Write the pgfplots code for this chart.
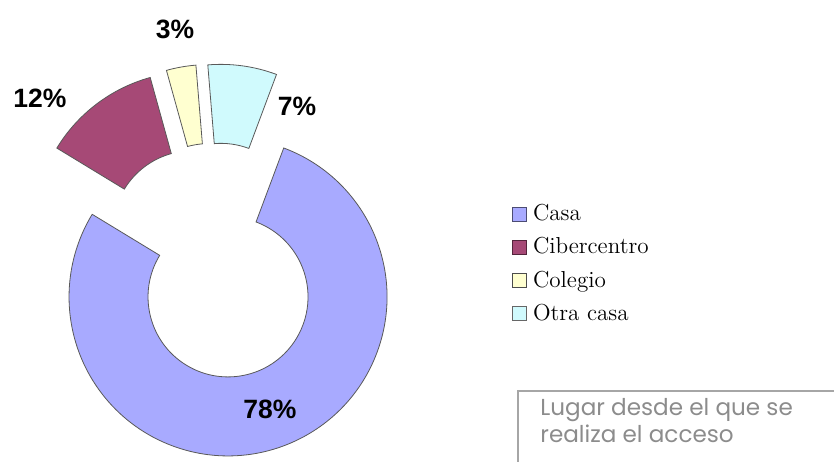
\documentclass[border=0pt]{standalone}
\usepackage{pgfplots}
\pgfplotsset{compat=1.18}
\usepackage{pgfplotstable}
\usepackage{fontspec}
\usetikzlibrary{calc}
\newfontfamily\arialf{Liberation Sans}
\newfontfamily\gothic{Poppins}

\definecolor{casa}{RGB}{168,170,255}
\definecolor{ciber}{RGB}{166,73,118}
\definecolor{colegio}{RGB}{255,255,208}
\definecolor{otra}{RGB}{208,250,253}

\pgfplotstableread{
lugar valor
Casa 78
Cibercentro 12
Colegio 3
Otra 7
}\lugares

% one exploded doughnut slice: start angle, end angle, mid angle, colour
\newcommand\rebanada[4]{%
  \fill[#4, draw=black!65, line width=0.4bp]
    ($(axis cs:215.6,201)+(#3:19bp)+(#1:79.5bp)$)
    arc[start angle=#1, end angle=#2, radius=79.5bp]
    -- ($(axis cs:215.6,201)+(#3:19bp)+(#2:40bp)$)
    arc[start angle=#2, end angle=#1, radius=40bp] -- cycle;}

\begin{document}
\begin{tikzpicture}
\pgfplotstablegetelem{0}{valor}\of\lugares \let\vA\pgfplotsretval
\pgfplotstablegetelem{1}{valor}\of\lugares \let\vB\pgfplotsretval
\pgfplotstablegetelem{2}{valor}\of\lugares \let\vC\pgfplotsretval
\pgfplotstablegetelem{3}{valor}\of\lugares \let\vD\pgfplotsretval
\pgfmathsetmacro\aA{69.5}
\pgfmathsetmacro\aB{\aA-3.6*\vA}
\pgfmathsetmacro\aC{\aB-3.6*\vB}
\pgfmathsetmacro\aD{\aC-3.6*\vC}
\pgfmathsetmacro\aE{\aD-3.6*\vD}
\pgfmathsetmacro\mA{(\aA+\aB)/2}
\pgfmathsetmacro\mB{(\aB+\aC)/2}
\pgfmathsetmacro\mC{(\aC+\aD)/2}
\pgfmathsetmacro\mD{(\aD+\aE)/2}
\begin{axis}[
  scale only axis, width=417bp, height=231bp,
  xmin=0, xmax=834, ymin=0, ymax=462,
  hide axis, clip=false,
  legend style={at={(axis cs:512,264.6)}, anchor=north west, draw=none, fill=none,
    inner sep=0pt, outer sep=0pt, row sep=0pt, column sep=3bp,
    font=\fontsize{11.6}{13}\selectfont,
    nodes={inner sep=0pt, minimum height=16.65bp}},
  legend cell align=left,
  legend image code/.code={\draw[#1, line width=0.5bp] (0bp,-3.5bp) rectangle (7bp,3.5bp);},
]
\addlegendimage{fill=casa, draw=casa!45!black}\addlegendentry{Casa}
\addlegendimage{fill=ciber, draw=ciber!50!black}\addlegendentry{Cibercentro}
\addlegendimage{fill=colegio, draw=black!70}\addlegendentry{Colegio}
\addlegendimage{fill=otra, draw=black!60}\addlegendentry{Otra casa}

\rebanada{\aA}{\aB}{\mA}{casa}
\rebanada{\aB}{\aC}{\mB}{ciber}
\rebanada{\aC}{\aD}{\mC}{colegio}
\rebanada{\aD}{\aE}{\mD}{otra}

\node[font=\arialf\bfseries\fontsize{13.3}{15}\selectfont, inner sep=0pt] at (axis cs:270,53) {\vA\%};
\node[font=\arialf\bfseries\fontsize{13.3}{15}\selectfont, inner sep=0pt] at (axis cs:40,364) {\vB\%};
\node[font=\arialf\bfseries\fontsize{13.3}{15}\selectfont, inner sep=0pt] at (axis cs:175,433) {\vC\%};
\node[font=\arialf\bfseries\fontsize{13.3}{15}\selectfont, inner sep=0pt] at (axis cs:297,356) {\vD\%};

\draw[black!35, line width=0.7bp] (axis cs:518,0) -- (axis cs:518,71) -- (axis cs:834,71);
\node[anchor=base west, inner sep=0pt, text=black!45, font=\gothic\fontsize{11.6}{13}\selectfont] at (axis cs:540,47) {Lugar desde el que se};
\node[anchor=base west, inner sep=0pt, text=black!45, font=\gothic\fontsize{11.6}{13}\selectfont] at (axis cs:540,20) {realiza el acceso};
\end{axis}
\pgfresetboundingbox
\path[use as bounding box] (current axis.south west) rectangle (current axis.north east);
\end{tikzpicture}
\end{document}
